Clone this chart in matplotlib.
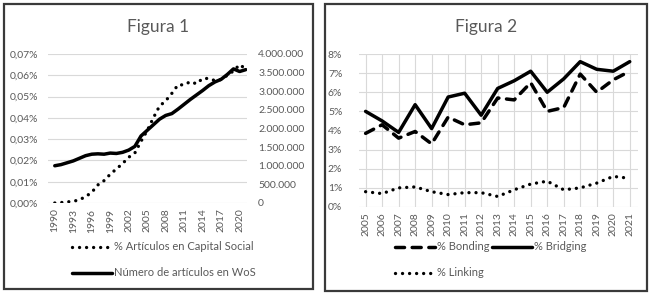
import matplotlib
matplotlib.use("Agg")
import matplotlib.pyplot as plt
from matplotlib.patches import Rectangle
from matplotlib.ticker import FuncFormatter

plt.rcParams['font.family'] = ['Lato', 'DejaVu Sans']

# Figura 1 data
years1 = list(range(1990, 2022))
pct_capital = [0.0000, 0.0002, 0.0005, 0.0008, 0.0015, 0.0030, 0.0050, 0.0085,
               0.0105, 0.0135, 0.0160, 0.0185, 0.0215, 0.0235, 0.0290, 0.0340,
               0.0400, 0.0455, 0.0480, 0.0515, 0.0555, 0.0555, 0.0570, 0.0560,
               0.0585, 0.0585, 0.0575, 0.0580, 0.0600, 0.0620, 0.0650, 0.0630]
wos_articles = [1000000, 1030000, 1080000, 1130000, 1200000, 1270000, 1310000, 1320000,
                1310000, 1340000, 1330000, 1360000, 1420000, 1520000, 1800000, 1950000,
                2100000, 2250000, 2350000, 2400000, 2520000, 2650000, 2780000, 2900000,
                3020000, 3150000, 3250000, 3320000, 3450000, 3600000, 3530000, 3580000]
ticks1 = list(range(1990, 2022, 3))

# Figura 2 data
years2 = list(range(2005, 2022))
bonding = [3.85, 4.3, 3.6, 3.95, 3.3, 4.7, 4.3, 4.4, 5.7, 5.6, 6.5, 5.0, 5.2, 6.95, 6.0, 6.65, 7.1]
bridging = [5.0, 4.5, 3.9, 5.35, 4.1, 5.75, 5.95, 4.8, 6.2, 6.6, 7.1, 6.0, 6.7, 7.6, 7.2, 7.1, 7.6]
linking = [0.8, 0.7, 1.0, 1.05, 0.8, 0.65, 0.75, 0.75, 0.55, 0.9, 1.2, 1.35, 0.9, 1.0, 1.25, 1.6, 1.5]

W, H = 652, 297
fig = plt.figure(figsize=(W / 100, H / 100), dpi=100)
gray = '#595959'
grid = '#d9d9d9'

def box(x0, y0, x1, y1):
    # panel frame in pixel coords (y from top)
    fig.patches.append(Rectangle((x0 / W, 1 - y1 / H), (x1 - x0) / W, (y1 - y0) / H,
                                 transform=fig.transFigure, fill=False,
                                 edgecolor='#3a3a3a', lw=1.6))

def axes_px(x0, y0, x1, y1):
    return fig.add_axes([x0 / W, 1 - y1 / H, (x1 - x0) / W, (y1 - y0) / H])

dot = dict(color='black', lw=2.4, linestyle=(0, (0.01, 2.1)), dash_capstyle='round')
dash = dict(color='black', lw=2.5, linestyle=(0, (2.6, 2.2)), dash_capstyle='round')
solid = dict(color='black', lw=2.5, solid_capstyle='round')

box(4, 4, 313, 289)
box(325, 4, 647, 291)

# ---- Figura 1
ax1 = axes_px(48, 54, 247, 203)
ax1b = ax1.twinx()
l1, = ax1.plot(years1, pct_capital, label='% Artículos en Capital Social', **dot)
l2, = ax1b.plot(years1, wos_articles, label='Número de artículos en WoS', **solid)
ax1.set_xlim(1988.9, 2021.2)
ax1.set_ylim(0, 0.07)
ax1b.set_ylim(0, 4000000)
ax1.set_yticks([i / 100 for i in range(8)])
ax1.yaxis.set_major_formatter(FuncFormatter(lambda v, p: f'{v:.2f}%'.replace('.', ',')))
ax1b.set_yticks(range(0, 4000001, 500000))
ax1b.yaxis.set_major_formatter(FuncFormatter(lambda v, p: f'{int(v):,}'.replace(',', '.')))
ax1.set_xticks(ticks1)
ax1.set_xticklabels([str(t) for t in ticks1], rotation=90)
ax1.grid(axis='y', color=grid, lw=0.8)
ax1.set_axisbelow(True)
ax1.tick_params(axis='x', length=0, pad=4, labelsize=7.5, labelcolor=gray)
ax1.tick_params(axis='y', length=0, pad=7, labelsize=7.5, labelcolor=gray)
ax1b.tick_params(axis='y', length=0, pad=8, labelsize=7.5, labelcolor=gray)
for a in (ax1, ax1b):
    for s in a.spines.values():
        s.set_visible(False)
fig.text(158 / W, 1 - 27 / H, 'Figura 1', ha='center', va='center', fontsize=12.5, color=gray)
fig.legend(handles=[l1, l2], loc='center left', bbox_to_anchor=(62 / W, 1 - 260 / H),
           frameon=False, fontsize=8, handlelength=3.6, handletextpad=0.15,
           labelspacing=1.35, labelcolor=gray)

# ---- Figura 2
ax2 = axes_px(359, 54, 638, 207)
b1, = ax2.plot(years2, bonding, label='% Bonding', **dash)
b2, = ax2.plot(years2, bridging, label='% Bridging', **solid)
b3, = ax2.plot(years2, linking, label='% Linking', **dot)
ax2.set_xlim(2004.6, 2021.5)
ax2.set_ylim(0, 8)
ax2.set_yticks(range(0, 9))
ax2.yaxis.set_major_formatter(FuncFormatter(lambda v, p: f'{int(v)}%'))
ax2.set_xticks(years2)
ax2.set_xticklabels([str(y) for y in years2], rotation=90)
ax2.grid(True, color=grid, lw=0.8)
ax2.set_axisbelow(True)
ax2.tick_params(axis='x', length=0, pad=4, labelsize=7.5, labelcolor=gray)
ax2.tick_params(axis='y', length=0, pad=12, labelsize=7.5, labelcolor=gray)
for s in ax2.spines.values():
    s.set_visible(False)
fig.text(486 / W, 1 - 27 / H, 'Figura 2', ha='center', va='center', fontsize=12.5, color=gray)
fig.legend(handles=[b1, b3, b2], ncol=2, loc='center left',
           bbox_to_anchor=(385 / W, 1 - 260 / H),
           frameon=False, fontsize=8, handlelength=3.6, handletextpad=0.15,
           labelspacing=1.35, columnspacing=0.25, labelcolor=gray)

fig.savefig('out.png', dpi=100)
